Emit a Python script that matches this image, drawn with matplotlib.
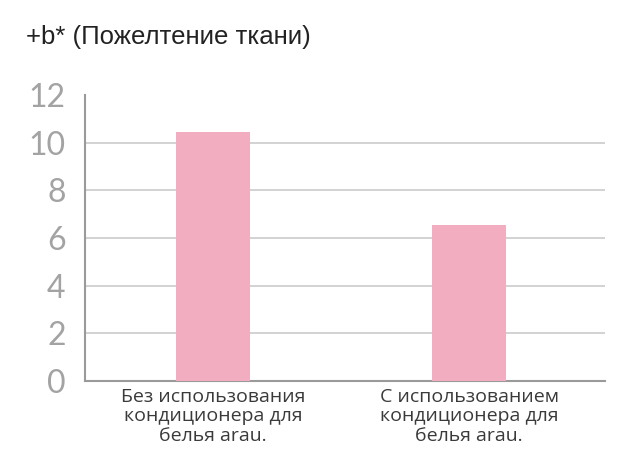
import matplotlib
matplotlib.use('Agg')
import matplotlib.pyplot as plt

# data
categories = ['Без использования\nкондиционера для\nбелья arau.',
              'С использованием\nкондиционера для\nбелья arau.']
values = [10.45, 6.55]
yticks = [0, 2, 4, 6, 8, 10, 12]
title = '+b* (Пожелтение ткани)'

fig = plt.figure(figsize=(6.35, 4.67), dpi=100)
ax = fig.add_axes([85/635, 86/467, 520/635, 286/467])

x = range(len(values))
ax.bar(x, values, width=0.29, color='#f3adc0', zorder=3)

ax.set_xlim(-0.5, 1.53)
ax.set_ylim(0, 12)
ax.set_yticks(yticks)
ax.set_yticklabels([str(t) for t in yticks], family='Lato',
                   fontsize=23, color='#a3a3a3')
for t in yticks[1:-1]:
    ax.axhline(t, color='#cfcfcf', lw=1.3, zorder=1)

ax.set_xticks(list(x))
ax.set_xticklabels(categories, family='Open Sans', fontsize=14, color='#3a3a3a',
                   linespacing=1.1)
ax.tick_params(axis='x', length=0, pad=5)
ax.tick_params(axis='y', length=0, pad=14)

for s in ['top', 'right']:
    ax.spines[s].set_visible(False)
for s in ['left', 'bottom']:
    ax.spines[s].set_color('#9a9a9a')
    ax.spines[s].set_linewidth(1.5)

fig.text(26/635, 1 - 37/467, title, family='Liberation Sans', fontsize=18.5,
         color='#222222', va='center', ha='left')

fig.savefig('out.png', dpi=100)
